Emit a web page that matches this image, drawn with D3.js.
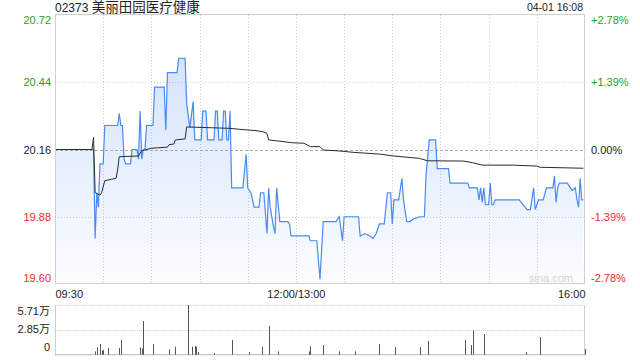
<!DOCTYPE html>
<html>
<head>
<meta charset="utf-8">
<script src="https://cdn.jsdelivr.net/npm/d3@7"></script>
<style>
  html, body { margin: 0; padding: 0; background: #fff; }
  svg { display: block; font-family: Arial, "Liberation Sans", "Noto Sans CJK SC", sans-serif; }
</style>
</head>
<body>
<div id="chart"></div>
<script>
"use strict";

// minutes since 09:30, lunch break left out (150 = 12:00/13:00, 330 = 16:00)
var priceMin = [0, 24, 25, 26, 27, 28, 30, 31, 39, 40, 41, 42, 43, 44, 47, 48, 51, 52, 53, 54,
  55, 56, 57, 61, 62, 68, 69, 70, 76, 77, 81, 82, 84, 86, 87, 91, 92, 94, 95, 99,
  100, 101, 102, 104, 105, 106, 107, 108, 109, 110, 117, 119, 120, 122, 124, 127, 128, 130, 132, 133,
  134, 136, 137, 138, 140, 145, 146, 147, 158, 159, 163, 165, 167, 175, 177, 179, 180, 189, 190, 193,
  196, 198, 200, 202, 205, 207, 209, 210, 211, 214, 216, 217, 219, 221, 223, 227, 230, 231, 233, 237,
  238, 245, 246, 257, 258, 263, 264, 265, 266, 267, 268, 270, 271, 272, 273, 274, 289, 294, 296, 298,
  299, 301, 304, 306, 310, 311, 312, 313, 314, 319, 321, 322, 324, 325, 326, 327, 328, 329];
var priceVal = [20.16, 20.16, 19.79, 19.98, 19.92, 20.10, 20.10, 20.26, 20.26, 20.31, 20.26, 20.26, 20.12, 20.10, 20.10, 20.16, 20.16, 20.12, 20.32, 20.12,
  20.16, 20.16, 20.26, 20.26, 20.42, 20.42, 20.24, 20.48, 20.48, 20.54, 20.54, 20.35, 20.25, 20.36, 20.20, 20.20, 20.32, 20.32, 20.20, 20.20,
  20.32, 20.32, 20.20, 20.20, 20.32, 20.32, 20.20, 20.20, 20.32, 20.00, 20.00, 20.14, 20.00, 19.98, 19.92, 19.92, 19.98, 19.98, 19.81, 20.00,
  19.92, 19.84, 19.81, 20.00, 19.86, 19.86, 19.85, 19.80, 19.80, 19.78, 19.78, 19.62, 19.86, 19.86, 19.88, 19.78, 19.88, 19.88, 19.80, 19.81,
  19.80, 19.79, 19.81, 19.85, 19.85, 19.98, 19.98, 19.85, 19.95, 19.95, 20.04, 19.95, 19.86, 19.86, 19.87, 19.88, 19.88, 20.05, 20.20, 20.20,
  20.08, 20.08, 20.02, 20.02, 20.00, 20.00, 19.95, 20.00, 19.94, 20.00, 19.93, 19.93, 20.02, 19.93, 19.93, 19.95, 19.95, 19.91, 19.91, 20.00,
  19.91, 19.95, 19.95, 20.00, 20.00, 20.05, 19.94, 20.00, 20.02, 20.02, 20.00, 19.99, 20.00, 19.95, 19.92, 20.04, 19.95, 19.95];

var avgMin = [0, 23, 24, 25, 28, 29, 31, 35, 38, 39, 40, 52, 54, 60, 70, 71, 74, 75, 81, 82,
  109, 115, 126, 130, 132, 133, 148, 155, 159, 165, 167, 177, 186, 202, 211, 227, 232, 254, 260, 266,
  285, 300, 302, 329];
var avgVal = [20.16, 20.16, 20.21, 19.98, 19.97, 19.98, 20.03, 20.036, 20.04, 20.075, 20.13, 20.133, 20.155, 20.165, 20.17, 20.18, 20.183, 20.20, 20.204, 20.254,
  20.248, 20.244, 20.238, 20.233, 20.227, 20.20, 20.188, 20.186, 20.172, 20.172, 20.158, 20.154, 20.148, 20.141, 20.133, 20.123, 20.113, 20.112, 20.105, 20.095,
  20.095, 20.091, 20.086, 20.082];

// volume in 万 shares
var volMin = [25, 26, 28, 29, 30, 33, 40, 41, 53, 54, 55, 61, 71, 75, 83, 85, 87, 88, 89, 99,
  110, 121, 129, 133, 139, 158, 159, 167, 177, 187, 202, 212, 227, 232, 255, 259, 260, 267, 293, 302, 330];
var volVal = [0.38, 0.84, 1.23, 0.46, 0.54, 0.77, 0.77, 1.69, 0.84, 0.73, 3.87, 1.23, 0.61, 0.92, 5.71, 0.92, 1.00, 0.92, 0.31, 0.19,
  1.69, 0.31, 0.88, 3.30, 0.38, 0.38, 0.96, 1.11, 0.38, 0.38, 1.23, 0.88, 0.88, 1.57, 1.69, 1.11, 2.80, 2.37, 0.30, 2.03, 0.65];

var priceTicks = [20.72, 20.44, 20.16, 19.88, 19.60];
var pctLabels = ["+2.78%", "+1.39%", "0.00%", "-1.39%", "-2.78%"];
var timeTicks = [0, 150, 330];
var timeLabels = ["09:30", "12:00/13:00", "16:00"];
var volTicks = [5.71, 2.85, 0];
var volLabels = ["5.71万", "2.85万", "0"];
var gridMinutes = [30, 60, 90, 120, 150, 180, 210, 240, 270, 300];
var prevClose = 20.16;

var stockCode = "02373";
var stockName = "美丽田园医疗健康";
var stamp = "04-01 16:08";

var width = 640, height = 360;
var padL = 55, padR = 585, padT = 15, padB = 284;
var volTop = 305, volBottom = 354.7;

var GREEN = "#1f9f1f", RED = "#ec2b2b", BLUE = "#4a8af4", GRID = "#cfcfcf";

var svg = d3.select("#chart").append("svg")
  .attr("width", width)
  .attr("height", height);

var x = d3.scaleLinear().domain([0, 330]).range([padL, padR]);
var y = d3.scaleLinear().domain([19.60, 20.72]).range([padB, padT]);
var yVol = d3.scaleLinear().domain([0, 5.71]).range([volBottom, volTop]);
var yVolLabel = d3.scaleLinear().domain([0, 5.71]).range([347, 311]);

function tickColor(v) {
  if (v > prevClose) return GREEN;
  if (v < prevClose) return RED;
  return "#222";
}

// header
var title = svg.append("text").attr("x", padL).attr("y", 11.5).attr("fill", "#222");
title.append("tspan").attr("font-size", 12).text(stockCode + " ");
title.append("tspan").attr("font-size", 13.5).text(stockName);

svg.append("text")
  .attr("x", 583).attr("y", 11)
  .attr("text-anchor", "end")
  .attr("font-size", 10.5)
  .attr("fill", "#222")
  .text(stamp);

// gradient for area
var defs = svg.append("defs");
var grad = defs.append("linearGradient")
  .attr("id", "areaFill")
  .attr("gradientUnits", "userSpaceOnUse")
  .attr("x1", 0).attr("y1", padT).attr("x2", 0).attr("y2", padB);
grad.append("stop").attr("offset", "0%").attr("stop-color", BLUE).attr("stop-opacity", 0.28);
grad.append("stop").attr("offset", "100%").attr("stop-color", BLUE).attr("stop-opacity", 0.02);

// grid, main panel
var grid = svg.append("g");
grid.selectAll(".vgrid")
  .data(gridMinutes)
  .enter().append("line")
  .attr("x1", function(d) { return Math.round(x(d)) + 0.5; })
  .attr("x2", function(d) { return Math.round(x(d)) + 0.5; })
  .attr("y1", padT).attr("y2", padB)
  .attr("stroke", GRID)
  .attr("stroke-dasharray", "1,2");

grid.selectAll(".hgrid")
  .data([priceTicks[1], priceTicks[3]])
  .enter().append("line")
  .attr("x1", padL).attr("x2", padR)
  .attr("y1", function(d) { return Math.round(y(d)) + 0.5; })
  .attr("y2", function(d) { return Math.round(y(d)) + 0.5; })
  .attr("stroke", GRID)
  .attr("stroke-dasharray", "1,2");

// price area + line
var points = priceMin.map(function(m, i) { return [m, priceVal[i]]; });

var area = d3.area()
  .x(function(d) { return x(d[0]); })
  .y0(padB)
  .y1(function(d) { return y(d[1]); });

var line = d3.line()
  .x(function(d) { return x(d[0]); })
  .y(function(d) { return y(d[1]); });

svg.append("path")
  .datum(points)
  .attr("d", area)
  .attr("fill", "url(#areaFill)");

// prev close line
svg.append("line")
  .attr("x1", padL).attr("x2", padR)
  .attr("y1", Math.round(y(prevClose)) + 0.5)
  .attr("y2", Math.round(y(prevClose)) + 0.5)
  .attr("stroke", "#aaa")
  .attr("stroke-dasharray", "3,2");

svg.append("path")
  .datum(points)
  .attr("d", line)
  .attr("fill", "none")
  .attr("stroke", BLUE)
  .attr("stroke-width", 1.2);

var avgPoints = avgMin.map(function(m, i) { return [m, avgVal[i]]; });
svg.append("path")
  .datum(avgPoints)
  .attr("d", line)
  .attr("fill", "none")
  .attr("stroke", "#2b2b2b")
  .attr("stroke-width", 1);

// frame
svg.append("rect")
  .attr("x", padL + 0.5).attr("y", padT - 0.5)
  .attr("width", padR - padL - 1).attr("height", padB - padT)
  .attr("fill", "none")
  .attr("stroke", GRID);

svg.append("text")
  .attr("x", 573).attr("y", 282)
  .attr("text-anchor", "end")
  .attr("font-size", 11)
  .attr("fill", "#d4d4d4")
  .text("sina.com");

// axes
function styleAxis(g) {
  g.select(".domain").remove();
  g.selectAll("text")
    .attr("font-size", 11)
    .attr("font-family", "Arial, 'Liberation Sans', 'Noto Sans CJK SC', sans-serif");
}

var leftAxis = svg.append("g")
  .attr("transform", "translate(" + padL + ",0)")
  .call(d3.axisLeft(y).tickValues(priceTicks).tickSize(0).tickPadding(4)
    .tickFormat(d3.format(".2f")))
  .call(styleAxis);
leftAxis.selectAll("text").attr("fill", function(d) { return tickColor(d); });

var rightAxis = svg.append("g")
  .attr("transform", "translate(" + padR + ",0)")
  .call(d3.axisRight(y).tickValues(priceTicks).tickSize(0).tickPadding(6)
    .tickFormat(function(d, i) { return pctLabels[i]; }))
  .call(styleAxis);
rightAxis.selectAll("text").attr("fill", function(d) { return tickColor(d); });

[leftAxis, rightAxis].forEach(function(ax) {
  ax.selectAll(".tick").filter(function(d) { return d === priceTicks[0]; })
    .select("text").attr("dy", "0.77em");
  ax.selectAll(".tick").filter(function(d) { return d === priceTicks[4]; })
    .select("text").attr("dy", "-0.2em");
});

var timeAxis = svg.append("g")
  .attr("transform", "translate(0," + padB + ")")
  .call(d3.axisBottom(x).tickValues(timeTicks).tickSize(0).tickPadding(6)
    .tickFormat(function(d, i) { return timeLabels[i]; }))
  .call(styleAxis);
timeAxis.selectAll("text")
  .attr("fill", "#222")
  .attr("text-anchor", function(d, i) { return i === 0 ? "start" : (i === 2 ? "end" : "middle"); });

// volume panel
var vol = svg.append("g");
vol.selectAll(".vline")
  .data([5.71, 2.85])
  .enter().append("line")
  .attr("x1", padL).attr("x2", padR)
  .attr("y1", function(d) { return Math.round(yVol(d)) + 0.5; })
  .attr("y2", function(d) { return Math.round(yVol(d)) + 0.5; })
  .attr("stroke", GRID)
  .attr("stroke-dasharray", "1,1");

vol.append("line")
  .attr("x1", padL + 0.5).attr("x2", padL + 0.5)
  .attr("y1", volTop).attr("y2", volBottom + 0.5)
  .attr("stroke", GRID);
vol.append("line")
  .attr("x1", padR - 0.5).attr("x2", padR - 0.5)
  .attr("y1", volTop).attr("y2", volBottom + 0.5)
  .attr("stroke", GRID);
vol.append("line")
  .attr("x1", padL).attr("x2", padR)
  .attr("y1", volBottom).attr("y2", volBottom)
  .attr("stroke", "#b8b8b8");

vol.selectAll(".bar")
  .data(volMin.map(function(m, i) { return [m, volVal[i]]; }))
  .enter().append("rect")
  .attr("x", function(d) { return Math.round(x(d[0])); })
  .attr("width", 1)
  .attr("y", function(d) { return yVol(d[1]); })
  .attr("height", function(d) { return volBottom - yVol(d[1]); })
  .attr("fill", "#555");

svg.append("g")
  .attr("transform", "translate(" + padL + ",0)")
  .call(d3.axisLeft(yVolLabel).tickValues(volTicks).tickSize(0).tickPadding(5)
    .tickFormat(function(d, i) { return volLabels[i]; }))
  .call(styleAxis)
  .selectAll("text").attr("fill", "#222");
</script>
</body>
</html>
